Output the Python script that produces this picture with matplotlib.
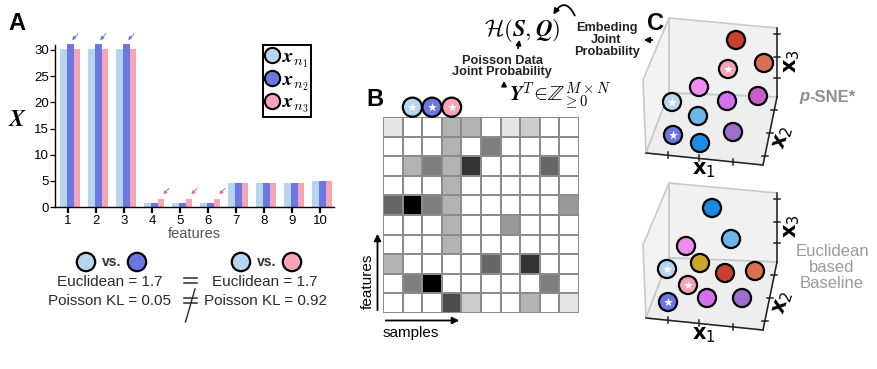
import numpy as np
import matplotlib
matplotlib.use("Agg")
import matplotlib.pyplot as plt
from matplotlib.lines import Line2D
from matplotlib.colors import LinearSegmentedColormap
from matplotlib.patches import Polygon

plt.rcParams['font.family'] = ['Liberation Sans', 'DejaVu Sans']
plt.rcParams['mathtext.fontset'] = 'cm'

W, H = 877, 369

# ---------------- data ----------------
features = [1, 2, 3, 4, 5, 6, 7, 8, 9, 10]
x_n1 = [30.2, 30.2, 30.2, 0.8, 0.8, 0.8, 4.5, 4.5, 4.5, 4.9]
x_n2 = [31.2, 31.2, 31.2, 0.8, 0.8, 0.8, 4.5, 4.5, 4.5, 5.0]
x_n3 = [30.2, 30.2, 30.2, 1.6, 1.6, 1.6, 4.5, 4.5, 4.5, 4.9]
y_ticks = [0, 5, 10, 15, 20, 25, 30]
series_labels = [r'$\boldsymbol{x}_{n_1}$', r'$\boldsymbol{x}_{n_2}$', r'$\boldsymbol{x}_{n_3}$']
euclidean = [1.7, 1.7]
poisson_kl = [0.05, 0.92]

# Poisson count matrix Y^T (features x samples)
Y_counts = np.array([
    [1, 0, 0, 3, 3, 0, 1, 2, 0, 0],
    [0, 0, 0, 3, 0, 5, 0, 0, 0, 0],
    [0, 3, 5, 3, 8, 0, 0, 0, 6, 0],
    [0, 0, 0, 3, 0, 0, 0, 0, 0, 0],
    [6, 10, 5, 3, 0, 0, 0, 0, 0, 4],
    [0, 0, 0, 3, 0, 0, 4, 0, 0, 0],
    [0, 0, 0, 3, 0, 0, 0, 0, 0, 0],
    [3, 0, 0, 0, 0, 6, 0, 8, 0, 0],
    [0, 5, 10, 0, 0, 0, 0, 0, 5, 0],
    [0, 0, 0, 7, 2, 0, 0, 3, 0, 1],
])

# embeddings (projected positions inside panel C boxes)
psne_x = [736, 764, 728, 699, 758, 672, 727, 698, 673, 733, 700]
psne_y = [40, 63, 69, 87, 96, 102, 101, 116, 135, 132, 143]
psne_c = ['#c8402f', '#d9704f', '#f4a3b4', '#ef8cef', '#cc5ccc', '#b7d5ef',
          '#d470f2', '#6bb5e8', '#6b78e2', '#9d6fcb', '#1b8be3']
psne_star = [0, 0, 1, 0, 0, 1, 0, 0, 1, 0, 0]

base_x = [712, 731, 686, 667, 700, 725, 755, 688, 707, 742, 668]
base_y = [208, 239, 246, 269, 263, 273, 271, 285, 298, 298, 302]
base_c = ['#1b8be3', '#6bb5e8', '#ef8cef', '#b7d5ef', '#c9a52a', '#c8402f',
          '#d9704f', '#f4a3b4', '#d470f2', '#9d6fcb', '#6b78e2']
base_star = [0, 0, 0, 1, 0, 0, 0, 1, 0, 0, 1]

c1, c2, c3 = '#b7d5ef', '#6b78e2', '#f8a3b6'

fig = plt.figure(figsize=(W / 100, H / 100), dpi=100)

# ---------------- panel A ----------------
px_unit_x = 28.0
x_left = 1 - 13 / px_unit_x
x_right = 10.5
y_top = 31.0
y_px = 157 / 30.0
axA = fig.add_axes([55 / W, (H - 207) / H, (x_right - x_left) * px_unit_x / W, y_top * y_px / H])
bw = 0.24
fx = np.array(features, dtype=float)
axA.bar(fx - 0.16, x_n1, bw, color=c1, clip_on=False, zorder=2)
axA.bar(fx + 0.08, x_n2, bw, color=c2, clip_on=False, zorder=2)
axA.bar(fx + 0.32, x_n3, bw, color=c3, clip_on=False, zorder=2)
axA.set_xlim(x_left, x_right)
axA.set_ylim(0, y_top)
axA.set_xticks(features)
axA.set_yticks(y_ticks)
axA.tick_params(axis='x', length=4, width=1.6, labelsize=9.5, pad=2)
axA.tick_params(axis='y', length=3.5, width=0.9, labelsize=9.5, pad=1)
for s in ['top', 'right']:
    axA.spines[s].set_visible(False)
axA.spines['left'].set_linewidth(1.0)
axA.spines['bottom'].set_linewidth(1.0)
axA.set_xlabel('features', fontsize=10.5, color='#555555', labelpad=0)
for i in range(3):
    axA.annotate('', xy=(fx[i] + 0.08, x_n2[i] + 0.3), xytext=(fx[i] + 0.42, x_n2[i] + 2.3),
                 arrowprops=dict(arrowstyle='-|>', color='#6b78e2', lw=0.7, mutation_scale=5),
                 annotation_clip=False)
for i in range(3, 6):
    axA.annotate('', xy=(fx[i] + 0.34, x_n3[i] + 0.4), xytext=(fx[i] + 0.68, x_n3[i] + 2.4),
                 arrowprops=dict(arrowstyle='-|>', color='#f06a8a', lw=0.7, mutation_scale=5),
                 annotation_clip=False)
handles = [Line2D([], [], ls='none', marker='o', ms=11, mfc=c, mec='black', mew=1.5) for c in (c1, c2, c3)]
leg = axA.legend(handles, series_labels, loc='upper left', bbox_to_anchor=(263 / W, 1 - 45 / H),
                 bbox_transform=fig.transFigure, frameon=True, fancybox=False, edgecolor='black',
                 framealpha=1, fontsize=14.5, handlelength=0.7, handletextpad=0.15, borderpad=0.1,
                 labelspacing=0.0, borderaxespad=0)
leg.get_frame().set_linewidth(1.4)

# ---------------- panel B ----------------
axB = fig.add_axes([383 / W, (H - 313) / H, 196 / W, 196 / H])
cmap = LinearSegmentedColormap.from_list('wk', ['#ffffff', '#000000'])
axB.pcolormesh(Y_counts, cmap=cmap, vmin=0, vmax=10, edgecolors='#8c8c8c', linewidth=1.3)
axB.set_xlim(0, 10)
axB.set_ylim(10, 0)
axB.axis('off')
axB.scatter([1.5, 2.5, 3.5], [-0.5] * 3, s=190, c=[c1, c2, c3], edgecolors='black',
            linewidths=1.6, clip_on=False, zorder=5)
axB.scatter([1.5, 2.5, 3.5], [-0.5] * 3, s=45, marker='*', c='white', linewidths=0,
            clip_on=False, zorder=6)

# ---------------- overlay ----------------
ov = fig.add_axes([0, 0, 1, 1])
ov.set_xlim(0, W)
ov.set_ylim(H, 0)
ov.axis('off')

ov.text(17, 23, 'A', fontsize=17, fontweight='bold', ha='center', va='center')
ov.text(375, 99, 'B', fontsize=17, fontweight='bold', ha='center', va='center')
ov.text(655, 23, 'C', fontsize=17, fontweight='bold', ha='center', va='center')
ov.text(17, 120, r'$\boldsymbol{X}$', fontsize=17, ha='center', va='center')

# comparison text below A
txtc = '#2a2a2a'
for cx, (ca, cb), e, p in [(110, (c1, c2), euclidean[0], poisson_kl[0]),
                            (265, (c1, c3), euclidean[1], poisson_kl[1])]:
    ov.scatter([cx - 24, cx + 27], [262, 262], s=175, c=[ca, cb], edgecolors='black', linewidths=1.6, zorder=5)
    ov.text(cx + 2, 262, 'vs.', fontsize=10, fontweight='bold', color='#333333', ha='center', va='center')
    ov.text(cx, 282, f'Euclidean = {e}', fontsize=11, color=txtc, ha='center', va='center')
    ov.text(cx, 301, f'Poisson KL = {p}', fontsize=11, color=txtc, ha='center', va='center')
# "=" and "not equal" signs drawn as strokes
for yy in (277.5, 282.5, 297.5, 302.5):
    ov.plot([183.5, 196.5], [yy, yy], color=txtc, lw=1.1)
ov.plot([195, 185.5], [289, 322], color=txtc, lw=1.0)

# B arrows
ov.annotate('', xy=(377.5, 231), xytext=(377.5, 313),
            arrowprops=dict(arrowstyle='-|>', color='black', lw=1.3, mutation_scale=10))
ov.text(368, 281, 'features', rotation=90, fontsize=11, ha='center', va='center')
ov.annotate('', xy=(462, 320.5), xytext=(383, 320.5),
            arrowprops=dict(arrowstyle='-|>', color='black', lw=1.3, mutation_scale=10))
ov.text(383, 333, 'samples', fontsize=11, ha='left', va='center')

# formula area
ov.text(522, 30, r'$\mathcal{H}(\boldsymbol{S},\boldsymbol{Q})$', fontsize=16.5, ha='center', va='center')
lab = dict(fontsize=9.2, fontweight='bold', ha='center', va='center', color='#222222')
ov.text(502, 61, 'Poisson Data', **lab)
ov.text(502, 72, 'Joint Probability', **lab)
ov.annotate('', xy=(520, 37), xytext=(517.5, 51),
            arrowprops=dict(arrowstyle='-|>', color='black', lw=1.3, mutation_scale=7))
ov.annotate('', xy=(504, 78), xytext=(504, 89),
            arrowprops=dict(arrowstyle='-|>', color='black', lw=1.3, mutation_scale=7))
ov.text(560, 96, r'$\boldsymbol{Y}^T\!\in\!\mathbb{Z}_{\geq 0}^{M\times N}$', fontsize=15, ha='center', va='center')
ov.text(607, 28, 'Embeding', **lab)
ov.text(606, 40, 'Joint', **lab)
ov.text(607, 52, 'Probability', **lab)
ov.annotate('', xy=(552, 17), xytext=(576, 18),
            arrowprops=dict(arrowstyle='-|>', color='black', lw=1.3, mutation_scale=8,
                            connectionstyle='arc3,rad=1.0'))
ov.annotate('', xy=(641, 40), xytext=(655, 40),
            arrowprops=dict(arrowstyle='-|>', color='black', lw=1.3, mutation_scale=8))

# panel C boxes
def draw_box(ox, oy):
    back = [(0, 0), (108, 10), (108, 79), (0, 75)]
    left = [(0, 0), (-26, 62), (-23, 135), (0, 75)]
    floor = [(0, 75), (108, 79), (94, 147), (-23, 135)]
    for pts, fc in [(back, '#f1f1f1'), (left, '#f3f3f3'), (floor, '#eeeeee')]:
        ov.add_patch(Polygon([(ox + a, oy + b) for a, b in pts], closed=True, fc=fc,
                             ec='#c9c9c9', lw=1.2, zorder=1))
    k = dict(color='#222222', lw=1.1, zorder=2)
    ov.plot([ox + 108, ox + 108], [oy + 10, oy + 79], **k)
    ov.plot([ox + 108, ox + 94], [oy + 79, oy + 147], **k)
    ov.plot([ox - 23, ox + 94], [oy + 135, oy + 147], **k)
    for ty in (16, 39, 60):
        ov.plot([ox + 105, ox + 111], [oy + ty, oy + ty], **k)
    for t in (0.19, 0.53, 0.87):
        xx = 108 + t * (94 - 108)
        yy = 79 + t * (147 - 79)
        ov.plot([ox + xx - 3, ox + xx + 3], [oy + yy, oy + yy], **k)
    for t in (0.19, 0.45, 0.74):
        xx = -23 + t * 117
        yy = 135 + t * 12
        ov.plot([ox + xx, ox + xx], [oy + yy - 3, oy + yy + 3], **k)
    ov.text(ox + 123, oy + 43, r'$\mathbf{x}_3$', fontsize=15, rotation=90, ha='center', va='center',
            math_fontfamily='dejavusans')
    ov.text(ox + 114, oy + 120, r'$\mathbf{x}_2$', fontsize=15, rotation=72, ha='center', va='center',
            math_fontfamily='dejavusans')
    ov.text(ox + 35, oy + 152, r'$\mathbf{x}_1$', fontsize=15, ha='center', va='center',
            math_fontfamily='dejavusans')

def draw_points(xs, ys, cs, stars):
    ov.scatter(xs, ys, s=170, c=cs, edgecolors='black', linewidths=1.6, zorder=5)
    sx = [x for x, s in zip(xs, stars) if s]
    sy = [y for y, s in zip(ys, stars) if s]
    ov.scatter(sx, sy, s=45, marker='*', c='white', linewidths=0, zorder=6)

draw_box(669, 18)
draw_points(psne_x, psne_y, psne_c, psne_star)
draw_box(669, 183)
draw_points(base_x, base_y, base_c, base_star)

ov.text(809, 97, 'p', fontsize=12, fontweight='bold', style='italic', color='#8e8e8e', ha='right', va='center')
ov.text(809, 97, '-SNE*', fontsize=12, fontweight='bold', color='#8e8e8e', ha='left', va='center')
for yy, s in zip((252, 268, 284), ('Euclidean', 'based', 'Baseline')):
    ov.text(832, yy, s, fontsize=12, color='#9a9a9a', ha='center', va='center')

fig.savefig('out.png', dpi=100)
